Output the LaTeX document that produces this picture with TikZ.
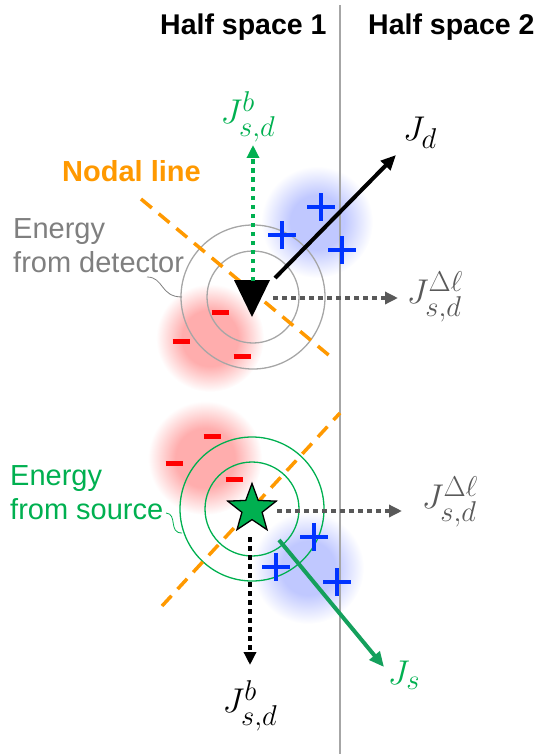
\documentclass[tikz,border=0pt]{standalone}
\usepackage{amsmath,amssymb}
\usepackage{graphicx}
\usepackage{fontspec}
\setmainfont{Liberation Sans}
\usepackage{xcolor}
\usetikzlibrary{arrows.meta,shapes.geometric}

\definecolor{srcgreen}{HTML}{00B050}
\definecolor{jsgreen}{HTML}{14A05C}
\definecolor{nodalorange}{HTML}{FF9900}
\definecolor{plusblue}{HTML}{0033FF}
\definecolor{minusred}{HTML}{FF0000}
\definecolor{fluxgray}{HTML}{595959}
\definecolor{ringgray}{HTML}{A6A6A6}
\definecolor{textgray}{HTML}{7F7F7F}
\definecolor{glowred}{HTML}{FFADAD}
\definecolor{glowblue}{HTML}{C0C8FF}

\pgfdeclareradialshading{redglow}{\pgfpoint{0bp}{0bp}}{color(0bp)=(glowred); color(13bp)=(glowred); color(25bp)=(white); color(50bp)=(white)}
\pgfdeclareradialshading{blueglow}{\pgfpoint{0bp}{0bp}}{color(0bp)=(glowblue); color(12bp)=(glowblue); color(25bp)=(white); color(50bp)=(white)}

% flux symbols, enlarged past the largest math size
\newcommand{\fluxlbl}[1]{\scalebox{1.38}{$#1$}}

\begin{document}
\begin{tikzpicture}[x=1pt, y=-1pt,
    ring/.style={line width=1.3pt},
    dotarrow/.style={line width=4.5pt, dash pattern=on 4.5pt off 4.5pt, -{Triangle[length=13pt,width=12pt]}},
    fluxarrow/.style={line width=4pt, -{Triangle[length=15pt,width=13pt]}},
    nodalline/.style={nodalorange, line width=3.5pt, dash pattern=on 14pt off 9pt},
    plusmark/.style={plusblue, line width=4pt},
    minusmark/.style={minusred, line width=5pt},
    mlabel/.style={inner sep=2pt, font=\fontsize{24.88}{30}\selectfont},
    tlabel/.style={inner sep=0pt, anchor=base west, font=\fontsize{29}{34}\selectfont},
    hlabel/.style={inner sep=0pt, anchor=base west, font=\fontsize{28.5}{34}\selectfont\bfseries},
    srcstar/.style={star, star points=5, star point ratio=2.4, minimum size=51pt, inner sep=0pt,
      fill=srcgreen, draw=black, line width=1.3pt},
    lead/.style={line width=0.8pt}]
    \useasboundingbox (0,0) rectangle (541,754);
    % glow of the lobes
    \shade[shading=redglow] (210,338) circle (54);
    \shade[shading=blueglow] (317,222) circle (56);
    \shade[shading=redglow] (205,458) circle (57);
    \shade[shading=blueglow] (308,568) circle (56);
    % border of the half spaces
    \draw[ringgray, line width=1.2pt] (340,5) -- (340,754);
    \node[hlabel] (hs1) at (160,35) {Half space 1};
    \node[hlabel] (hs2) at (368,35) {Half space 2};
    % detector and source
    \coordinate (det) at (253,297);
    \draw[ringgray, ring] (det) circle (46);
    \draw[ringgray, ring] (det) circle (72);
    \coordinate (src) at (252,509);
    \draw[srcgreen, ring] (src) circle (47);
    \draw[srcgreen, ring] (src) circle (72);
    % nodal lines
    \draw[nodalline] (141,199) -- (331,357);
    \draw[nodalline] (162,606) -- (340,413);
    \fill[black] (234,280) -- (270,280) -- (252,317) -- cycle;
    \node[srcstar] (star) at (src) {};
    % fluxes
    \coordinate (d-n) at (253,281);
    \coordinate (d-ne) at (275,278);
    \coordinate (d-e) at (273,298);
    \coordinate (t-bu) at (253,145);
    \coordinate (t-d) at (396,155);
    \coordinate (t-l1) at (398,298);
    \coordinate (s-e) at (277,511);
    \coordinate (s-s) at (250,537);
    \coordinate (s-se) at (279,540);
    \coordinate (t-l2) at (402,511);
    \coordinate (t-bd) at (250,665);
    \coordinate (t-s) at (384,667);
    \draw[dotarrow, srcgreen] (d-n) -- (t-bu);
    \draw[fluxarrow, black] (d-ne) -- (t-d);
    \draw[dotarrow, fluxgray] (d-e) -- (t-l1);
    \draw[dotarrow, fluxgray] (s-e) -- (t-l2);
    \draw[dotarrow, black] (s-s) -- (t-bd);
    \draw[fluxarrow, jsgreen] (s-se) -- (t-s);
    % signs of the lobes
    \foreach \px/\py in {321/207,282/235,342/250,314/537,276/567,337/582}
      \draw[plusmark] (\px-14,\py) -- (\px+14,\py) (\px,\py-14) -- (\px,\py+14);
    \foreach \mx/\my in {220/312,181/341,242/356,212/436,174/463,234/479}
      \draw[minusmark] (\mx-8.5,\my) -- (\mx+8.5,\my);
    % labels
    \node[mlabel, text=srcgreen] (Jbup) at (248,117) {\fluxlbl{J^{b}_{s,d}}};
    \node[mlabel] (Jd) at (420,133) {\fluxlbl{J_{d}}};
    \node[mlabel, text=fluxgray] (Jdl1) at (435,297) {\fluxlbl{J^{\Delta\ell}_{s,d}}};
    \node[mlabel, text=fluxgray] (Jdl2) at (450,502) {\fluxlbl{J^{\Delta\ell}_{s,d}}};
    \node[mlabel, text=srcgreen] (Js) at (404,675) {\fluxlbl{J_{s}}};
    \node[mlabel] (Jbdn) at (250,706) {\fluxlbl{J^{b}_{s,d}}};
    \node[hlabel, text=nodalorange, font=\fontsize{29}{34}\selectfont\bfseries] (nodal) at (62,182) {Nodal line};
    \node[tlabel, text=textgray] (edet1) at (13,238) {Energy};
    \node[tlabel, text=textgray] (edet2) at (13,272) {from detector};
    \node[tlabel, text=srcgreen] (esrc1) at (10,485) {Energy};
    \node[tlabel, text=srcgreen] (esrc2) at (10,519) {from source};
    \coordinate (edet-lead) at (147,277);
    \coordinate (esrc-lead) at (166,513);
    \draw[textgray, lead] (edet-lead) .. controls (164,277) and (160,297) .. (182,297);
    \draw[srcgreen, lead] (esrc-lead) .. controls (178,514) and (168,533) .. (182,533);
\end{tikzpicture}
\end{document}
